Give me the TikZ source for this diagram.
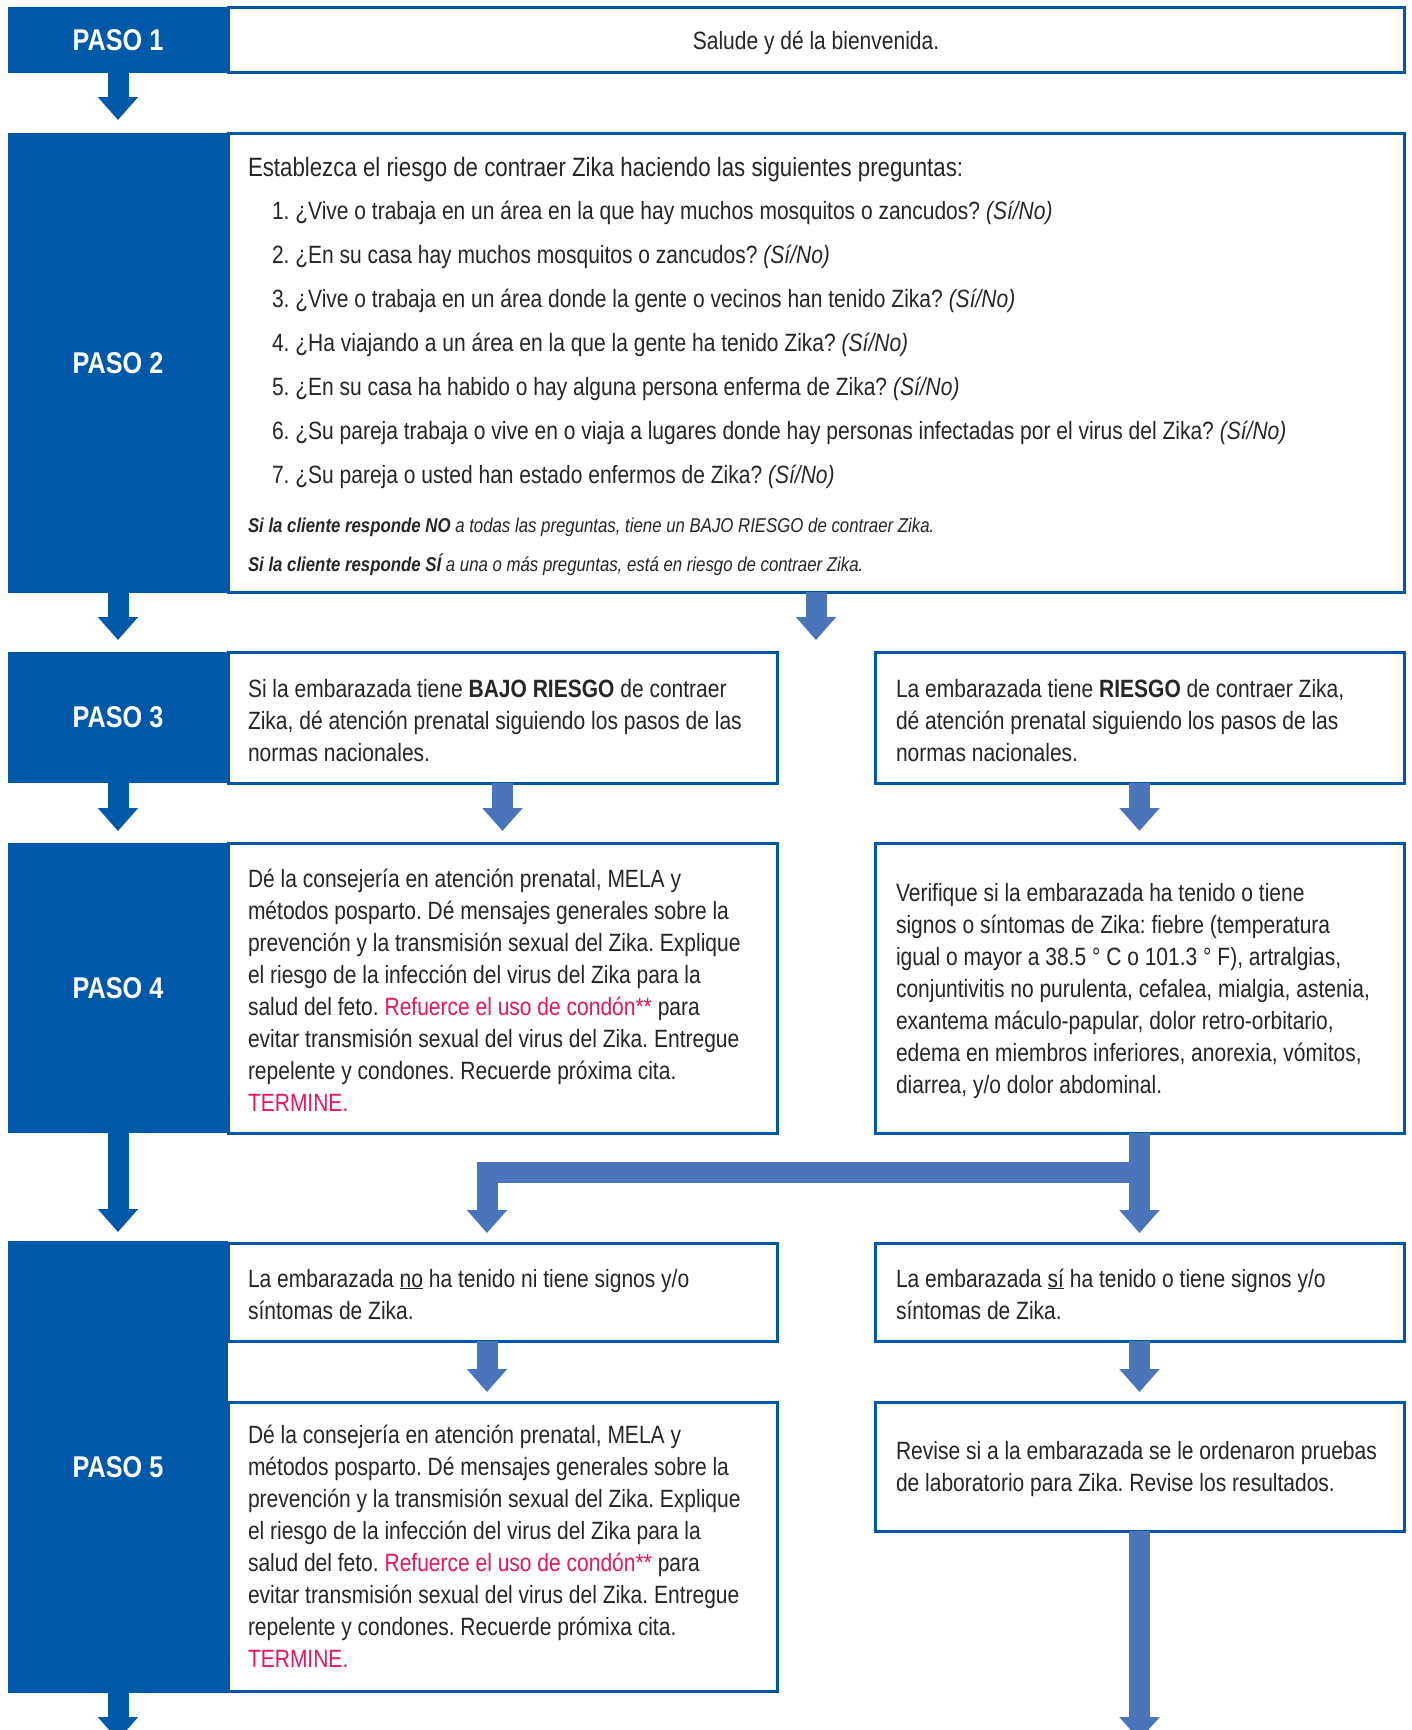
\documentclass[tikz,border=0pt]{standalone}
\usepackage{fontspec}
\setmainfont{Liberation Sans}[FakeStretch=0.84]
\usetikzlibrary{arrows.meta}
\definecolor{dkblue}{HTML}{0059A8}
\definecolor{ltblue}{HTML}{4A75BA}
\definecolor{pinkc}{HTML}{E6175C}
\definecolor{txtc}{HTML}{262626}
\newcommand{\pk}[1]{\textcolor{pinkc}{#1}}
\newcommand{\bodyfont}{\fontsize{25}{32}\selectfont}
\frenchspacing
\begin{document}
\begin{tikzpicture}[x=1pt,y=-1pt,
 paso/.style={fill=dkblue, text=white, inner sep=0pt, outer sep=0pt, anchor=north west, minimum width=220pt, font=\fontsize{30}{36}\selectfont\bfseries},
 box/.style={draw=dkblue, line width=3pt, fill=white, inner sep=0pt, outer sep=0pt, anchor=north west},
 txt/.style={anchor=north west, inner sep=0pt, outer sep=0pt, align=left, font=\bodyfont, text=txtc},
 arrD/.style={draw=dkblue, line width=21pt, -{Triangle[width=39pt,length=23pt]}},
 arrL/.style={draw=ltblue, line width=21pt, line join=miter, -{Triangle[width=39pt,length=23pt]}},
]
\useasboundingbox (0,0) rectangle (1412,1730);
\fill[white] (0,0) rectangle (1412,1730);

% boxes
\node[box, minimum width=1176pt, minimum height=65pt] (b1) at (228,7) {};
\node[box, minimum width=1176pt, minimum height=459pt] (b2) at (228,133) {};
\node[box, minimum width=549pt, minimum height=131pt] (b3l) at (228,652) {};
\node[box, minimum width=529pt, minimum height=131pt] (b3r) at (875,652) {};
\node[box, minimum width=549pt, minimum height=290pt] (b4l) at (228,843) {};
\node[box, minimum width=529pt, minimum height=290pt] (b4r) at (875,843) {};
\node[box, minimum width=549pt, minimum height=98pt] (b5l) at (228,1243) {};
\node[box, minimum width=529pt, minimum height=98pt] (b5r) at (875,1243) {};
\node[box, minimum width=549pt, minimum height=289pt] (b6l) at (228,1402) {};
\node[box, minimum width=529pt, minimum height=129pt] (b6r) at (875,1402) {};

% paso column
\node[paso, minimum height=66pt] (p1) at (8,7) {PASO 1};
\node[paso, minimum height=460pt] (p2) at (8,133) {PASO 2};
\node[paso, minimum height=131pt] (p3) at (8,652) {PASO 3};
\node[paso, minimum height=290pt] (p4) at (8,843) {PASO 4};
\node[paso, minimum height=452pt] (p5) at (8,1241) {PASO 5};

% texts
\node[txt, anchor=base] (t1) at (816,49) {Salude y dé la bienvenida.};
\node[txt, font=\fontsize{26.5}{32}\selectfont] (t2h) at (248,153.6) {\strut Establezca el riesgo de contraer Zika haciendo las siguientes preguntas:};
\node[txt, font=\fontsize{25}{44}\selectfont] (t2q) at (272,188.2) {\strut 1. ¿Vive o trabaja en un área en la que hay muchos mosquitos o zancudos? \textit{(Sí/No)}\\
2. ¿En su casa hay muchos mosquitos o zancudos? \textit{(Sí/No)}\\
3. ¿Vive o trabaja en un área donde la gente o vecinos han tenido Zika? \textit{(Sí/No)}\\
4. ¿Ha viajando a un área en la que la gente ha tenido Zika? \textit{(Sí/No)}\\
5. ¿En su casa ha habido o hay alguna persona enferma de Zika? \textit{(Sí/No)}\\
6. ¿Su pareja trabaja o vive en o viaja a lugares donde hay personas infectadas por el virus del Zika? \textit{(Sí/No)}\\
7. ¿Su pareja o usted han estado enfermos de Zika? \textit{(Sí/No)}};
\node[txt, font=\fontsize{20}{39}\selectfont\itshape] (t2n) at (248,504.7) {\strut\textbf{Si la cliente responde NO} a todas las preguntas, tiene un BAJO RIESGO de contraer Zika.\\
\textbf{Si la cliente responde SÍ} a una o más preguntas, está en riesgo de contraer Zika.};

\node[txt] (t3l) at (248,674.6) {\strut Si la embarazada tiene \textbf{BAJO RIESGO} de contraer\\
Zika, dé atención prenatal siguiendo los pasos de las\\
normas nacionales.};
\node[txt] (t3r) at (896,674.6) {\strut La embarazada tiene \textbf{RIESGO} de contraer Zika,\\
dé atención prenatal siguiendo los pasos de las\\
normas nacionales.};

\node[txt] (t4l) at (248,864.6) {\strut Dé la consejería en atención prenatal, MELA y\\
métodos posparto. Dé mensajes generales sobre la\\
prevención y la transmisión sexual del Zika. Explique\\
el riesgo de la infección del virus del Zika para la\\
salud del feto. \pk{Refuerce el uso de condón**} para\\
evitar transmisión sexual del virus del Zika. Entregue\\
repelente y condones. Recuerde próxima cita.\\
\pk{TERMINE.}};
\node[txt] (t4r) at (896,878.6) {\strut Verifique si la embarazada ha tenido o tiene\\
signos o síntomas de Zika: fiebre (temperatura\\
igual o mayor a 38.5 ° C o 101.3 ° F), artralgias,\\
conjuntivitis no purulenta, cefalea, mialgia, astenia,\\
exantema máculo-papular, dolor retro-orbitario,\\
edema en miembros inferiores, anorexia, vómitos,\\
diarrea, y/o dolor abdominal.};

\node[txt] (t5l) at (248,1264.6) {\strut La embarazada \underline{no} ha tenido ni tiene signos y/o\\
síntomas de Zika.};
\node[txt] (t5r) at (896,1264.6) {\strut La embarazada \underline{sí} ha tenido o tiene signos y/o\\
síntomas de Zika.};

\node[txt] (t6l) at (248,1420.6) {\strut Dé la consejería en atención prenatal, MELA y\\
métodos posparto. Dé mensajes generales sobre la\\
prevención y la transmisión sexual del Zika. Explique\\
el riesgo de la infección del virus del Zika para la\\
salud del feto. \pk{Refuerce el uso de condón**} para\\
evitar transmisión sexual del virus del Zika. Entregue\\
repelente y condones. Recuerde prómixa cita.\\
\pk{TERMINE.}};
\node[txt] (t6r) at (896,1436.6) {\strut Revise si a la embarazada se le ordenaron pruebas\\
de laboratorio para Zika. Revise los resultados.};

% coordinates
\coordinate (e5) at (118,1740);
\coordinate (c2) at (816,640);
\coordinate (fk) at (487,1172);
\coordinate (e6) at (1139.5,1740);

% left column arrows
\draw[arrD, shorten >=13pt] (p1.south) -- (p2.north);
\draw[arrD, shorten >=12pt] (p2.south) -- (p3.north);
\draw[arrD, shorten >=12pt] (p3.south) -- (p4.north);
\draw[arrD, shorten >=9pt] (p4.south) -- (p5.north);
\draw[arrD] (p5.south) -- (e5);

% content arrows
\draw[arrL] (b2.south) -- (c2);
\draw[arrL, shorten >=12pt] (b3l.south) -- (b4l.north);
\draw[arrL, shorten >=12pt] (b3r.south) -- (b4r.north);
\draw[arrL, shorten >=10pt] (b4r.south) |- (fk) -- (fk |- b5l.north);
\draw[arrL, shorten >=10pt] (b4r.south) -- (b5r.north);
\draw[arrL, shorten >=10pt] (b5l.south -| fk) -- (b6l.north -| fk);
\draw[arrL, shorten >=10pt] (b5r.south) -- (b6r.north);
\draw[arrL] (b6r.south) -- (e6);
\end{tikzpicture}
\end{document}
